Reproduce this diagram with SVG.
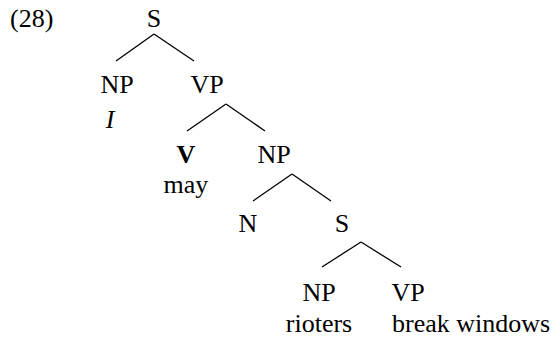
<svg xmlns="http://www.w3.org/2000/svg" width="558" height="337" viewBox="0 0 558 337">
<rect width="558" height="337" fill="#fff"/>
<g font-family="Liberation Serif" font-size="26" fill="#000">
<g id="label"><text x="10" y="27">(28)</text></g>
<g id="edges" stroke="#000" stroke-width="1.3" fill="none">
<line x1="154" y1="34" x2="116" y2="61"/>
<line x1="154" y1="34" x2="194" y2="61"/>
<line x1="226" y1="104" x2="187" y2="131"/>
<line x1="226" y1="104" x2="265" y2="131"/>
<line x1="292" y1="174" x2="253" y2="201"/>
<line x1="292" y1="174" x2="331" y2="201"/>
<line x1="361" y1="242" x2="322" y2="267"/>
<line x1="361" y1="242" x2="401" y2="267"/>
</g>
<g text-anchor="middle">
<g id="S1"><text x="154" y="27">S</text></g>
<g id="NP1"><text x="117" y="93">NP</text><text x="110" y="128" font-style="italic">I</text></g>
<g id="VP1"><text x="207" y="93">VP</text></g>
<g id="V"><text x="186" y="163" font-weight="bold">V</text><text x="186" y="193">may</text></g>
<g id="NP2"><text x="274" y="163">NP</text></g>
<g id="N"><text x="248" y="232">N</text></g>
<g id="S2"><text x="342" y="232">S</text></g>
<g id="NP3"><text x="319" y="301">NP</text><text x="319" y="332">rioters</text></g>
<g id="VP2"><text x="408" y="301">VP</text></g>
</g>
<text x="392" y="332">break windows</text>
</g>
</svg>
